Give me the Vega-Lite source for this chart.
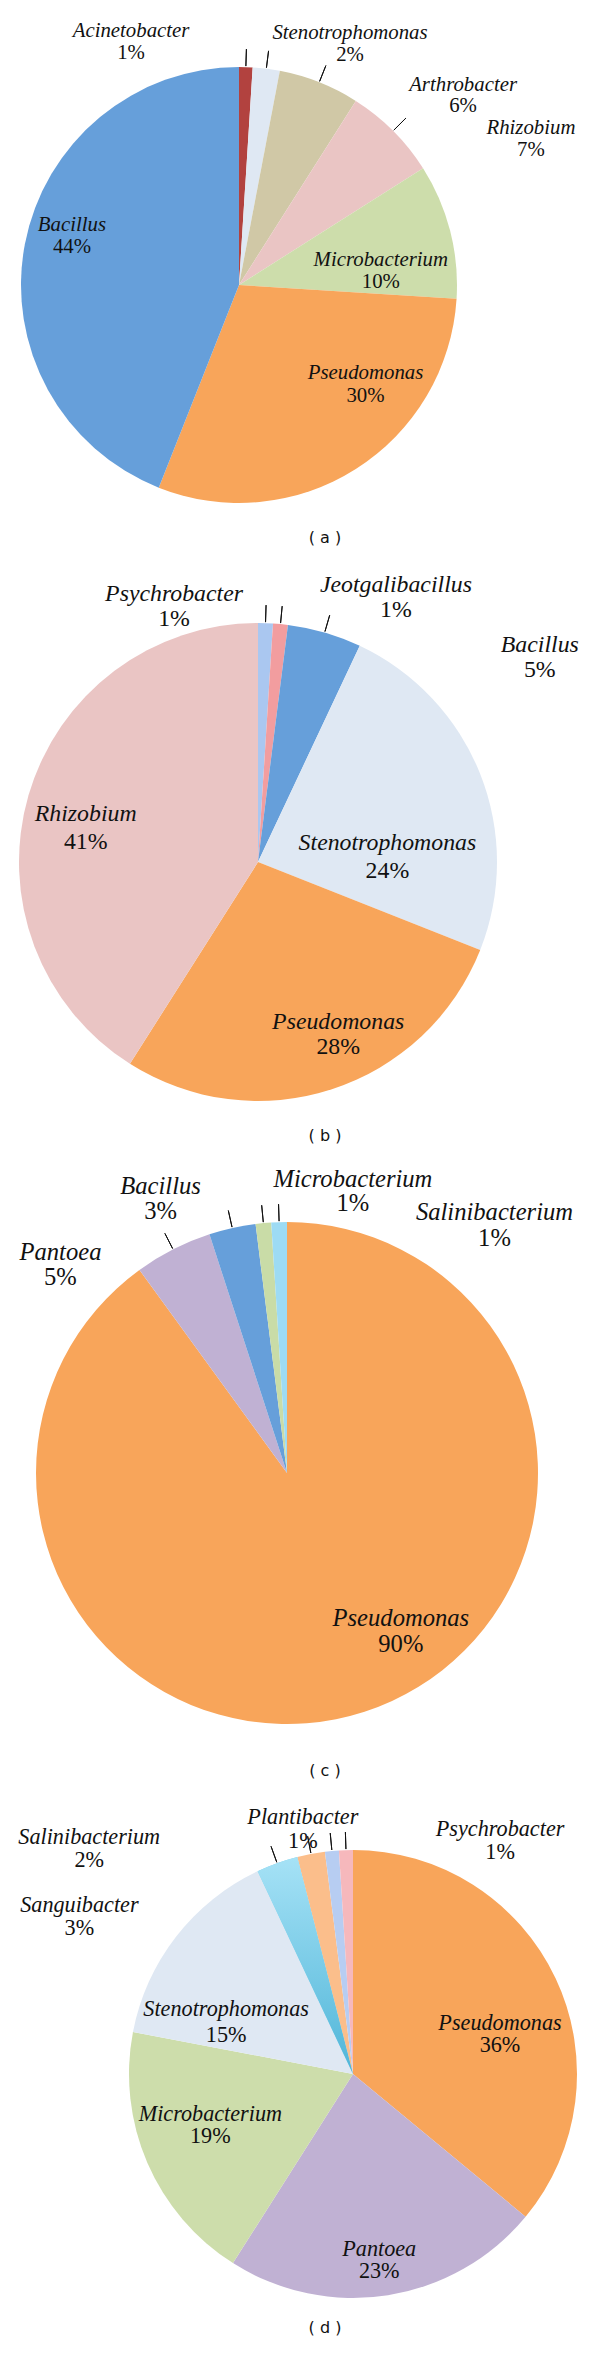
{
  "$schema": "https://vega.github.io/schema/vega-lite/v6.json",
  "padding": 0,
  "spacing": 0,
  "background": "white",
  "resolve": {"scale": {"color": "independent", "theta": "independent", "x": "independent", "y": "independent"}},
  "config": {
    "view": {"stroke": null},
    "text": {"font": "Liberation Serif", "color": "#111111", "align": "center", "baseline": "middle"},
    "title": {"font": "DejaVu Sans", "fontSize": 16, "fontWeight": "normal", "color": "#111111", "orient": "bottom", "offset": 4, "dx": 25}
  },
  "vconcat": [
    {
      "width": 600, "height": 526,
      "title": "( a )",
      "data": {"values": [
        {"genus": "Acinetobacter", "share": 0.01, "i": 1},
        {"genus": "Stenotrophomonas", "share": 0.02, "i": 2},
        {"genus": "Arthrobacter", "share": 0.06, "i": 3},
        {"genus": "Rhizobium", "share": 0.07, "i": 4},
        {"genus": "Microbacterium", "share": 0.10, "i": 5},
        {"genus": "Pseudomonas", "share": 0.30, "i": 6},
        {"genus": "Bacillus", "share": 0.44, "i": 7}
      ]},
      "transform": [{"stack": "share", "groupby": [], "sort": [{"field": "i"}], "as": ["t0", "t1"]}],
      "encoding": {
        "x": {"datum": "pie", "type": "nominal", "scale": {"type": "point", "align": 0.39833}, "axis": null},
        "y": {"datum": "pie", "type": "nominal", "scale": {"type": "point", "align": 0.5418}, "axis": null},
        "theta": {"field": "t0", "type": "quantitative", "stack": null, "scale": {"domain": [0, 1]}}
      },
      "layer": [
        {"mark": {"type": "arc", "outerRadius": 218},
         "encoding": {"theta2": {"field": "t1"}, "color": {"field": "genus", "type": "nominal", "legend": null,
           "scale": {"domain": ["Acinetobacter", "Stenotrophomonas", "Arthrobacter", "Rhizobium", "Microbacterium", "Pseudomonas", "Bacillus"],
                     "range": ["#B2423F", "#DFE8F3", "#D0C8A6", "#EAC5C4", "#CDDDAB", "#F8A55A", "#669FDA"]}}}},
        {"transform": [{"filter": {"field": "genus", "oneOf": ["Acinetobacter", "Stenotrophomonas", "Arthrobacter", "Rhizobium"]}}],
         "mark": {"type": "arc", "innerRadius": 219, "outerRadius": 236, "padAngle": 1, "fill": "transparent", "stroke": "#111111", "strokeWidth": 1},
         "encoding": {"theta2": {"field": "t1"}}},
        {"transform": [{"filter": {"field": "genus", "equal": "Acinetobacter"}}], "mark": {"type": "text", "radius": 266.1, "thetaOffset": -0.4176, "dy": -10.75, "fontSize": 20.8, "fontStyle": "italic"}, "encoding": {"text": {"field": "genus"}}},
        {"transform": [{"filter": {"field": "genus", "equal": "Acinetobacter"}}], "mark": {"type": "text", "radius": 266.1, "thetaOffset": -0.4176, "dy": 10.75, "fontSize": 20.8}, "encoding": {"text": {"field": "share", "type": "quantitative", "format": ".0%"}}},
        {"transform": [{"filter": {"field": "genus", "equal": "Stenotrophomonas"}}], "mark": {"type": "text", "radius": 265.3, "thetaOffset": 0.3688, "dy": -10.75, "fontSize": 20.8, "fontStyle": "italic"}, "encoding": {"text": {"field": "genus"}}},
        {"transform": [{"filter": {"field": "genus", "equal": "Stenotrophomonas"}}], "mark": {"type": "text", "radius": 265.3, "thetaOffset": 0.3688, "dy": 10.75, "fontSize": 20.8}, "encoding": {"text": {"field": "share", "type": "quantitative", "format": ".0%"}}},
        {"transform": [{"filter": {"field": "genus", "equal": "Arthrobacter"}}], "mark": {"type": "text", "radius": 293.4, "thetaOffset": 0.6805, "dy": -10.75, "fontSize": 20.8, "fontStyle": "italic"}, "encoding": {"text": {"field": "genus"}}},
        {"transform": [{"filter": {"field": "genus", "equal": "Arthrobacter"}}], "mark": {"type": "text", "radius": 293.4, "thetaOffset": 0.6805, "dy": 10.75, "fontSize": 20.8}, "encoding": {"text": {"field": "share", "type": "quantitative", "format": ".0%"}}},
        {"transform": [{"filter": {"field": "genus", "equal": "Rhizobium"}}], "mark": {"type": "text", "radius": 326.4, "thetaOffset": 0.5419, "dy": -10.75, "fontSize": 20.8, "fontStyle": "italic"}, "encoding": {"text": {"field": "genus"}}},
        {"transform": [{"filter": {"field": "genus", "equal": "Rhizobium"}}], "mark": {"type": "text", "radius": 326.4, "thetaOffset": 0.5419, "dy": 10.75, "fontSize": 20.8}, "encoding": {"text": {"field": "share", "type": "quantitative", "format": ".0%"}}},
        {"transform": [{"filter": {"field": "genus", "equal": "Microbacterium"}}], "mark": {"type": "text", "radius": 142.5, "thetaOffset": 0.4672, "dy": -10.75, "fontSize": 20.8, "fontStyle": "italic"}, "encoding": {"text": {"field": "genus"}}},
        {"transform": [{"filter": {"field": "genus", "equal": "Microbacterium"}}], "mark": {"type": "text", "radius": 142.5, "thetaOffset": 0.4672, "dy": 10.75, "fontSize": 20.8}, "encoding": {"text": {"field": "share", "type": "quantitative", "format": ".0%"}}},
        {"transform": [{"filter": {"field": "genus", "equal": "Pseudomonas"}}], "mark": {"type": "text", "radius": 160.8, "thetaOffset": 0.6025, "dy": -11.5, "fontSize": 20.8, "fontStyle": "italic"}, "encoding": {"text": {"field": "genus"}}},
        {"transform": [{"filter": {"field": "genus", "equal": "Pseudomonas"}}], "mark": {"type": "text", "radius": 160.8, "thetaOffset": 0.6025, "dy": 11.5, "fontSize": 20.8}, "encoding": {"text": {"field": "share", "type": "quantitative", "format": ".0%"}}},
        {"transform": [{"filter": {"field": "genus", "equal": "Bacillus"}}], "mark": {"type": "text", "radius": 174.1, "thetaOffset": 1.4793, "dy": -10.75, "fontSize": 20.8, "fontStyle": "italic"}, "encoding": {"text": {"field": "genus"}}},
        {"transform": [{"filter": {"field": "genus", "equal": "Bacillus"}}], "mark": {"type": "text", "radius": 174.1, "thetaOffset": 1.4793, "dy": 10.75, "fontSize": 20.8}, "encoding": {"text": {"field": "share", "type": "quantitative", "format": ".0%"}}}
      ]
    },
    {
      "width": 600, "height": 578,
      "title": "( b )",
      "data": {"values": [
        {"genus": "Psychrobacter", "share": 0.01, "i": 1},
        {"genus": "Jeotgalibacillus", "share": 0.01, "i": 2},
        {"genus": "Bacillus", "share": 0.05, "i": 3},
        {"genus": "Stenotrophomonas", "share": 0.24, "i": 4},
        {"genus": "Pseudomonas", "share": 0.28, "i": 5},
        {"genus": "Rhizobium", "share": 0.41, "i": 6}
      ]},
      "transform": [{"stack": "share", "groupby": [], "sort": [{"field": "i"}], "as": ["t0", "t1"]}],
      "encoding": {
        "x": {"datum": "pie", "type": "nominal", "scale": {"type": "point", "align": 0.43}, "axis": null},
        "y": {"datum": "pie", "type": "nominal", "scale": {"type": "point", "align": 0.5467}, "axis": null},
        "theta": {"field": "t0", "type": "quantitative", "stack": null, "scale": {"domain": [0, 1]}}
      },
      "layer": [
        {"mark": {"type": "arc", "outerRadius": 239},
         "encoding": {"theta2": {"field": "t1"}, "color": {"field": "genus", "type": "nominal", "legend": null,
           "scale": {"domain": ["Psychrobacter", "Jeotgalibacillus", "Bacillus", "Stenotrophomonas", "Pseudomonas", "Rhizobium"],
                     "range": ["#AAC7F0", "#F29D9F", "#669FDA", "#DFE8F3", "#F8A55A", "#EAC5C4"]}}}},
        {"transform": [{"filter": {"field": "genus", "oneOf": ["Psychrobacter", "Jeotgalibacillus", "Bacillus"]}}],
         "mark": {"type": "arc", "innerRadius": 240, "outerRadius": 257, "padAngle": 1, "fill": "transparent", "stroke": "#111111", "strokeWidth": 1},
         "encoding": {"theta2": {"field": "t1"}}},
        {"transform": [{"filter": {"field": "genus", "equal": "Psychrobacter"}}], "mark": {"type": "text", "radius": 268.8, "thetaOffset": -0.3176, "dy": -12.5, "fontSize": 23.8, "fontStyle": "italic"}, "encoding": {"text": {"field": "genus"}}},
        {"transform": [{"filter": {"field": "genus", "equal": "Psychrobacter"}}], "mark": {"type": "text", "radius": 268.8, "thetaOffset": -0.3176, "dy": 12.5, "fontSize": 23.8}, "encoding": {"text": {"field": "share", "type": "quantitative", "format": ".0%"}}},
        {"transform": [{"filter": {"field": "genus", "equal": "Jeotgalibacillus"}}], "mark": {"type": "text", "radius": 297.9, "thetaOffset": 0.4184, "dy": -12.5, "fontSize": 23.8, "fontStyle": "italic"}, "encoding": {"text": {"field": "genus"}}},
        {"transform": [{"filter": {"field": "genus", "equal": "Jeotgalibacillus"}}], "mark": {"type": "text", "radius": 297.9, "thetaOffset": 0.4184, "dy": 12.5, "fontSize": 23.8}, "encoding": {"text": {"field": "share", "type": "quantitative", "format": ".0%"}}},
        {"transform": [{"filter": {"field": "genus", "equal": "Bacillus"}}], "mark": {"type": "text", "radius": 348.0, "thetaOffset": 0.8181, "dy": -12.5, "fontSize": 23.8, "fontStyle": "italic"}, "encoding": {"text": {"field": "genus"}}},
        {"transform": [{"filter": {"field": "genus", "equal": "Bacillus"}}], "mark": {"type": "text", "radius": 348.0, "thetaOffset": 0.8181, "dy": 12.5, "fontSize": 23.8}, "encoding": {"text": {"field": "share", "type": "quantitative", "format": ".0%"}}},
        {"transform": [{"filter": {"field": "genus", "equal": "Rhizobium"}}], "mark": {"type": "text", "radius": 175.6, "thetaOffset": 1.2001, "dy": -14, "fontSize": 23.8, "fontStyle": "italic"}, "encoding": {"text": {"field": "genus"}}},
        {"transform": [{"filter": {"field": "genus", "equal": "Rhizobium"}}], "mark": {"type": "text", "radius": 175.6, "thetaOffset": 1.2001, "dy": 14, "fontSize": 23.8}, "encoding": {"text": {"field": "share", "type": "quantitative", "format": ".0%"}}},
        {"transform": [{"filter": {"field": "genus", "equal": "Stenotrophomonas"}}], "mark": {"type": "text", "radius": 129.5, "thetaOffset": 1.0950, "dy": -14, "fontSize": 23.8, "fontStyle": "italic"}, "encoding": {"text": {"field": "genus"}}},
        {"transform": [{"filter": {"field": "genus", "equal": "Stenotrophomonas"}}], "mark": {"type": "text", "radius": 129.5, "thetaOffset": 1.0950, "dy": 14, "fontSize": 23.8}, "encoding": {"text": {"field": "share", "type": "quantitative", "format": ".0%"}}},
        {"transform": [{"filter": {"field": "genus", "equal": "Pseudomonas"}}], "mark": {"type": "text", "radius": 189.8, "thetaOffset": 0.7576, "dy": -12.5, "fontSize": 23.8, "fontStyle": "italic"}, "encoding": {"text": {"field": "genus"}}},
        {"transform": [{"filter": {"field": "genus", "equal": "Pseudomonas"}}], "mark": {"type": "text", "radius": 189.8, "thetaOffset": 0.7576, "dy": 12.5, "fontSize": 23.8}, "encoding": {"text": {"field": "share", "type": "quantitative", "format": ".0%"}}}
      ]
    },
    {
      "width": 600, "height": 615,
      "title": "( c )",
      "data": {"values": [
        {"genus": "Pseudomonas", "share": 0.90, "i": 1},
        {"genus": "Pantoea", "share": 0.05, "i": 2},
        {"genus": "Bacillus", "share": 0.03, "i": 3},
        {"genus": "Microbacterium", "share": 0.01, "i": 4},
        {"genus": "Salinibacterium", "share": 0.01, "i": 5}
      ]},
      "transform": [{"stack": "share", "groupby": [], "sort": [{"field": "i"}], "as": ["t0", "t1"]}],
      "encoding": {
        "x": {"datum": "pie", "type": "nominal", "scale": {"type": "point", "align": 0.47833}, "axis": null},
        "y": {"datum": "pie", "type": "nominal", "scale": {"type": "point", "align": 0.535}, "axis": null},
        "theta": {"field": "t0", "type": "quantitative", "stack": null, "scale": {"domain": [0, 1]}}
      },
      "layer": [
        {"mark": {"type": "arc", "outerRadius": 251},
         "encoding": {"theta2": {"field": "t1"}, "color": {"field": "genus", "type": "nominal", "legend": null,
           "scale": {"domain": ["Pseudomonas", "Pantoea", "Bacillus", "Microbacterium", "Salinibacterium"],
                     "range": ["#F8A55A", "#C0B1D3", "#669FDA", "#C9DCA7", "#9DDBF4"]}}}},
        {"transform": [{"filter": {"field": "genus", "oneOf": ["Pantoea", "Bacillus", "Microbacterium", "Salinibacterium"]}}],
         "mark": {"type": "arc", "innerRadius": 252, "outerRadius": 269, "padAngle": 1, "fill": "transparent", "stroke": "#111111", "strokeWidth": 1},
         "encoding": {"theta2": {"field": "t1"}}},
        {"transform": [{"filter": {"field": "genus", "equal": "Pseudomonas"}}], "mark": {"type": "text", "radius": 195.6, "thetaOffset": 2.5204, "dy": -12.75, "fontSize": 24.6, "fontStyle": "italic"}, "encoding": {"text": {"field": "genus"}}},
        {"transform": [{"filter": {"field": "genus", "equal": "Pseudomonas"}}], "mark": {"type": "text", "radius": 195.6, "thetaOffset": 2.5204, "dy": 12.75, "fontSize": 24.6}, "encoding": {"text": {"field": "share", "type": "quantitative", "format": ".0%"}}},
        {"transform": [{"filter": {"field": "genus", "equal": "Pantoea"}}], "mark": {"type": "text", "radius": 307.2, "thetaOffset": -0.2009, "dy": -12.75, "fontSize": 24.6, "fontStyle": "italic"}, "encoding": {"text": {"field": "genus"}}},
        {"transform": [{"filter": {"field": "genus", "equal": "Pantoea"}}], "mark": {"type": "text", "radius": 307.2, "thetaOffset": -0.2009, "dy": 12.75, "fontSize": 24.6}, "encoding": {"text": {"field": "share", "type": "quantitative", "format": ".0%"}}},
        {"transform": [{"filter": {"field": "genus", "equal": "Bacillus"}}], "mark": {"type": "text", "radius": 301.3, "thetaOffset": -0.1188, "dy": -12.75, "fontSize": 24.6, "fontStyle": "italic"}, "encoding": {"text": {"field": "genus"}}},
        {"transform": [{"filter": {"field": "genus", "equal": "Bacillus"}}], "mark": {"type": "text", "radius": 301.3, "thetaOffset": -0.1188, "dy": 12.75, "fontSize": 24.6}, "encoding": {"text": {"field": "share", "type": "quantitative", "format": ".0%"}}},
        {"transform": [{"filter": {"field": "genus", "equal": "Microbacterium"}}], "mark": {"type": "text", "radius": 288.2, "thetaOffset": 0.3564, "dy": -12, "fontSize": 24.6, "fontStyle": "italic"}, "encoding": {"text": {"field": "genus"}}},
        {"transform": [{"filter": {"field": "genus", "equal": "Microbacterium"}}], "mark": {"type": "text", "radius": 288.2, "thetaOffset": 0.3564, "dy": 12, "fontSize": 24.6}, "encoding": {"text": {"field": "share", "type": "quantitative", "format": ".0%"}}},
        {"transform": [{"filter": {"field": "genus", "equal": "Salinibacterium"}}], "mark": {"type": "text", "radius": 322.6, "thetaOffset": 0.7614, "dy": -12.75, "fontSize": 24.6, "fontStyle": "italic"}, "encoding": {"text": {"field": "genus"}}},
        {"transform": [{"filter": {"field": "genus", "equal": "Salinibacterium"}}], "mark": {"type": "text", "radius": 322.6, "thetaOffset": 0.7614, "dy": 12.75, "fontSize": 24.6}, "encoding": {"text": {"field": "share", "type": "quantitative", "format": ".0%"}}}
      ]
    },
    {
      "width": 600, "height": 537,
      "title": "( d )",
      "data": {"values": [
        {"genus": "Pseudomonas", "share": 0.36, "i": 1},
        {"genus": "Pantoea", "share": 0.23, "i": 2},
        {"genus": "Microbacterium", "share": 0.19, "i": 3},
        {"genus": "Stenotrophomonas", "share": 0.15, "i": 4},
        {"genus": "Sanguibacter", "share": 0.03, "i": 5},
        {"genus": "Salinibacterium", "share": 0.02, "i": 6},
        {"genus": "Plantibacter", "share": 0.01, "i": 7},
        {"genus": "Psychrobacter", "share": 0.01, "i": 8}
      ]},
      "transform": [{"stack": "share", "groupby": [], "sort": [{"field": "i"}], "as": ["t0", "t1"]}],
      "encoding": {
        "x": {"datum": "pie", "type": "nominal", "scale": {"type": "point", "align": 0.58833}, "axis": null},
        "y": {"datum": "pie", "type": "nominal", "scale": {"type": "point", "align": 0.5493}, "axis": null},
        "theta": {"field": "t0", "type": "quantitative", "stack": null, "scale": {"domain": [0, 1]}}
      },
      "layer": [
        {"mark": {"type": "arc", "outerRadius": 224},
         "encoding": {"theta2": {"field": "t1"}, "color": {"field": "genus", "type": "nominal", "legend": null,
           "scale": {"domain": ["Pseudomonas", "Pantoea", "Microbacterium", "Stenotrophomonas", "Sanguibacter", "Salinibacterium", "Plantibacter", "Psychrobacter"],
                     "range": ["#F8A55A", "#C0B1D3", "#CDDDAB", "#DFE8F3", "#7CCFEB", "#FBBE8B", "#B7CDF2", "#F6B8BC"]}}}},
        {"transform": [{"filter": {"field": "genus", "equal": "Sanguibacter"}}],
         "mark": {"type": "arc", "outerRadius": 224, "fill": {"gradient": "linear", "x1": 0, "y1": 0, "x2": 0, "y2": 1, "stops": [{"offset": 0, "color": "#A6E2F6"}, {"offset": 1, "color": "#4FB5D8"}]}},
         "encoding": {"theta2": {"field": "t1"}}},
        {"transform": [{"filter": {"field": "genus", "oneOf": ["Sanguibacter", "Salinibacterium", "Plantibacter", "Psychrobacter"]}}],
         "mark": {"type": "arc", "innerRadius": 225, "outerRadius": 242, "padAngle": 1, "fill": "transparent", "stroke": "#111111", "strokeWidth": 1},
         "encoding": {"theta2": {"field": "t1"}}},
        {"transform": [{"filter": {"field": "genus", "equal": "Pseudomonas"}}], "mark": {"type": "text", "radius": 152.3, "thetaOffset": 1.3060, "dy": -11.25, "fontSize": 22.2, "fontStyle": "italic"}, "encoding": {"text": {"field": "genus"}}},
        {"transform": [{"filter": {"field": "genus", "equal": "Pseudomonas"}}], "mark": {"type": "text", "radius": 152.3, "thetaOffset": 1.3060, "dy": 11.25, "fontSize": 22.2}, "encoding": {"text": {"field": "share", "type": "quantitative", "format": ".0%"}}},
        {"transform": [{"filter": {"field": "genus", "equal": "Pantoea"}}], "mark": {"type": "text", "radius": 187.9, "thetaOffset": 0.7396, "dy": -11.25, "fontSize": 22.2, "fontStyle": "italic"}, "encoding": {"text": {"field": "genus"}}},
        {"transform": [{"filter": {"field": "genus", "equal": "Pantoea"}}], "mark": {"type": "text", "radius": 187.9, "thetaOffset": 0.7396, "dy": 11.25, "fontSize": 22.2}, "encoding": {"text": {"field": "share", "type": "quantitative", "format": ".0%"}}},
        {"transform": [{"filter": {"field": "genus", "equal": "Microbacterium"}}], "mark": {"type": "text", "radius": 151.5, "thetaOffset": 0.6619, "dy": -11.25, "fontSize": 22.2, "fontStyle": "italic"}, "encoding": {"text": {"field": "genus"}}},
        {"transform": [{"filter": {"field": "genus", "equal": "Microbacterium"}}], "mark": {"type": "text", "radius": 151.5, "thetaOffset": 0.6619, "dy": 11.25, "fontSize": 22.2}, "encoding": {"text": {"field": "share", "type": "quantitative", "format": ".0%"}}},
        {"transform": [{"filter": {"field": "genus", "equal": "Stenotrophomonas"}}], "mark": {"type": "text", "radius": 136.9, "thetaOffset": 0.1972, "dy": -13, "fontSize": 22.2, "fontStyle": "italic"}, "encoding": {"text": {"field": "genus"}}},
        {"transform": [{"filter": {"field": "genus", "equal": "Stenotrophomonas"}}], "mark": {"type": "text", "radius": 136.9, "thetaOffset": 0.1972, "dy": 13, "fontSize": 22.2}, "encoding": {"text": {"field": "share", "type": "quantitative", "format": ".0%"}}},
        {"transform": [{"filter": {"field": "genus", "equal": "Sanguibacter"}}], "mark": {"type": "text", "radius": 315.7, "thetaOffset": -0.6088, "dy": -11.25, "fontSize": 22.2, "fontStyle": "italic"}, "encoding": {"text": {"field": "genus"}}},
        {"transform": [{"filter": {"field": "genus", "equal": "Sanguibacter"}}], "mark": {"type": "text", "radius": 315.7, "thetaOffset": -0.6088, "dy": 11.25, "fontSize": 22.2}, "encoding": {"text": {"field": "share", "type": "quantitative", "format": ".0%"}}},
        {"transform": [{"filter": {"field": "genus", "equal": "Salinibacterium"}}], "mark": {"type": "text", "radius": 347.0, "thetaOffset": -0.6122, "dy": -11.75, "fontSize": 22.2, "fontStyle": "italic"}, "encoding": {"text": {"field": "genus"}}},
        {"transform": [{"filter": {"field": "genus", "equal": "Salinibacterium"}}], "mark": {"type": "text", "radius": 347.0, "thetaOffset": -0.6122, "dy": 11.75, "fontSize": 22.2}, "encoding": {"text": {"field": "share", "type": "quantitative", "format": ".0%"}}},
        {"transform": [{"filter": {"field": "genus", "equal": "Plantibacter"}}], "mark": {"type": "text", "radius": 249.8, "thetaOffset": -0.0766, "dy": -12, "fontSize": 22.2, "fontStyle": "italic"}, "encoding": {"text": {"field": "genus"}}},
        {"transform": [{"filter": {"field": "genus", "equal": "Plantibacter"}}], "mark": {"type": "text", "radius": 249.8, "thetaOffset": -0.0766, "dy": 12, "fontSize": 22.2}, "encoding": {"text": {"field": "share", "type": "quantitative", "format": ".0%"}}},
        {"transform": [{"filter": {"field": "genus", "equal": "Psychrobacter"}}], "mark": {"type": "text", "radius": 276.2, "thetaOffset": 0.6244, "dy": -11.5, "fontSize": 22.2, "fontStyle": "italic"}, "encoding": {"text": {"field": "genus"}}},
        {"transform": [{"filter": {"field": "genus", "equal": "Psychrobacter"}}], "mark": {"type": "text", "radius": 276.2, "thetaOffset": 0.6244, "dy": 11.5, "fontSize": 22.2}, "encoding": {"text": {"field": "share", "type": "quantitative", "format": ".0%"}}}
      ]
    }
  ]
}
